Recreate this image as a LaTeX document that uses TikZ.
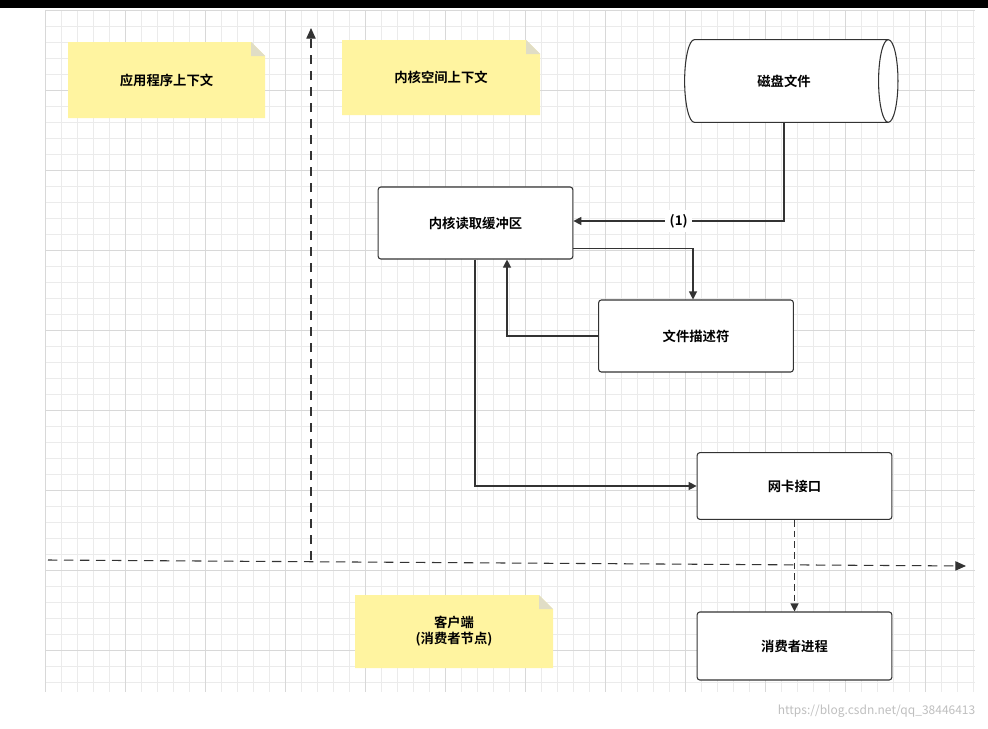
\documentclass[tikz,border=0pt]{standalone}
\usepackage{fontspec}
\setmainfont{Noto Sans CJK SC}[BoldFont={* Bold}]
\usetikzlibrary{shapes.geometric,positioning,arrows.meta}
\definecolor{note}{HTML}{FFF4A0}
\definecolor{gridc}{HTML}{EBEBEB}
\definecolor{linec}{HTML}{333333}
\tikzset{
  box/.style={draw=linec, thick, rounded corners=2pt, fill=white, minimum width=146pt, minimum height=54pt, font=\bfseries},
  conn/.style={draw=linec, thick, -{Triangle[length=6pt,width=6pt]}},
  axis/.style={draw=linec, thick, dashed, dash pattern=on 7pt off 5pt, -{Triangle[length=8pt,width=7pt]}}
}
\newcommand{\sticky}[5]{% x1,y1,x2,y2,name
  \fill[note] (#1,#2) -- (#3-14,#2) -- (#3,#2+14) -- (#3,#4) -- (#1,#4) -- cycle;
  \fill[note!70!black!40] (#3-14,#2) -- (#3-14,#2+14) -- (#3,#2+14) -- cycle;
  \coordinate (#5) at ({(#1+#3)/2},{(#2+#4)/2});}
\begin{document}
\begin{tikzpicture}[x=0.75pt,y=-0.75pt]
\useasboundingbox (0,0) rectangle (988,728);
\fill[white] (0,0) rectangle (988,728);
\fill[black] (0,0) rectangle (988,8);
% grid
\foreach \i in {0,...,58} {\draw[gridc] (45+16*\i,10) -- (45+16*\i,692);}
\foreach \j in {0,...,42} {\draw[gridc] (45,10+16*\j) -- (975,10+16*\j);}
\foreach \i in {0,...,11} {\draw[gridc!92!black] (45+80*\i,10) -- (45+80*\i,692);}
\foreach \j in {0,...,8} {\draw[gridc!92!black] (45,10+80*\j) -- (975,10+80*\j);}

% notes
\sticky{68}{42}{265}{118}{appnote}
\sticky{342}{40}{540}{115}{kernote}
\sticky{355}{595}{553}{668}{clinote}
\node[font=\bfseries] (app) at (appnote) {应用程序上下文};
\node[font=\bfseries] (ker) at (kernote) {内核空间上下文};
\node[font=\bfseries, align=center] (cli) at (clinote) {客户端\\(消费者节点)};

% axes
\coordinate (vbot) at (311,560);
\coordinate (vtop) at (311,28);
\coordinate (hl) at (48,560);
\coordinate (hr) at (966,566);
\draw[axis] (vbot) -- (vtop);
\draw[axis] (hl) -- (hr);

% nodes
\node[cylinder, shape border rotate=0, draw=linec, thick, fill=white, aspect=0.9,
      minimum width=62pt, minimum height=160pt, font=\bfseries] (disk) at (784,81) {磁盘文件};
\node[box] (buf) at (475.5,223) {内核读取缓冲区};
\node[box] (fd) at (696,336) {文件描述符};
\node[box, minimum height=50pt] (nic) at (794.5,486) {网卡接口};
\node[box, minimum height=51pt] (con) at (794.5,646) {消费者进程};

% connectors
\draw[conn] (disk.south) |- node[pos=0.75, fill=white, font=\bfseries] {(1)} ([yshift=1.5pt]buf.east);
\draw[conn] ([yshift=-19pt]buf.east) -| (fd.north -| 693,0);
\draw[conn] (fd.west) -| (buf.south -| 507,0);
\draw[conn] (buf.south -| 475,0) |- (nic.west);
\draw[conn, dash pattern=on 5pt off 3pt] (nic.south) -- (con.north);

\node[gray!50, font=\small, anchor=south east] (wm) at (980,722) {https://blog.csdn.net/qq\_38446413};
\end{tikzpicture}
\end{document}
